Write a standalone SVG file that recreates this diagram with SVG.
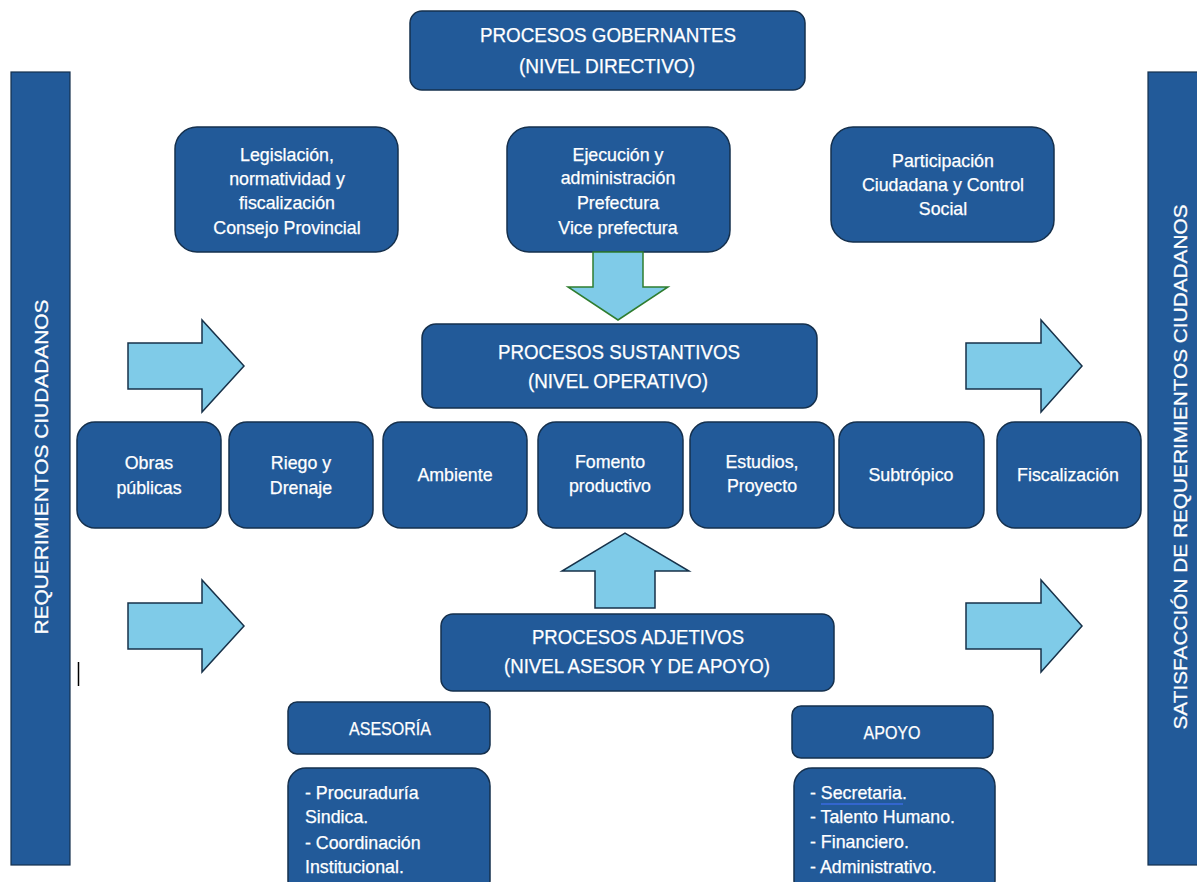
<svg xmlns="http://www.w3.org/2000/svg" width="1197" height="882" viewBox="0 0 1197 882">
<style>
.box{fill:#225a99;stroke:#15304d;stroke-width:1.5}
.bar{fill:#225a99;stroke:#15304d;stroke-width:1.2}
.arr{fill:#7fcbe8;stroke:#17324a;stroke-width:1.5;stroke-linejoin:miter}
.arrg{fill:#7fcbe8;stroke:#2f7d2f;stroke-width:1.5}
text{font-family:"Liberation Sans",Arial,sans-serif;fill:#ffffff;stroke:#ffffff;stroke-width:0.25}
.t16{font-size:17.8px;text-anchor:middle}
.h16{font-size:17.5px;text-anchor:middle}
.t20{font-size:21px;text-anchor:middle}
.l16{font-size:17.8px;text-anchor:start}
.v{font-size:19px;text-anchor:middle}
</style>
<rect width="1197" height="882" fill="#ffffff"/>

<g id="bar-left">
<rect class="bar" x="11" y="72" width="59" height="793"/>
<text class="v" transform="translate(48,467) rotate(-90)" textLength="335" lengthAdjust="spacingAndGlyphs">REQUERIMIENTOS CIUDADANOS</text>
</g>
<g id="bar-right">
<rect class="bar" x="1148" y="72" width="60" height="793"/>
<text class="v" transform="translate(1187,467) rotate(-90)" textLength="525" lengthAdjust="spacingAndGlyphs">SATISFACCIÓN DE REQUERIMIENTOS CIUDADANOS</text>
</g>

<g id="gobernantes">
<rect class="box" x="410" y="11" width="395" height="79" rx="12"/>
<text class="t20" x="608" y="42" textLength="256" lengthAdjust="spacingAndGlyphs">PROCESOS GOBERNANTES</text>
<text class="t20" x="607" y="73" textLength="176" lengthAdjust="spacingAndGlyphs">(NIVEL DIRECTIVO)</text>
</g>

<g id="legislacion">
<rect class="box" x="175" y="127" width="223" height="125" rx="22"/>
<text class="t16" x="287" y="161">Legislación,</text>
<text class="t16" x="287" y="185">normatividad y</text>
<text class="t16" x="287" y="209">fiscalización</text>
<text class="t16" x="287" y="234">Consejo Provincial</text>
</g>

<g id="ejecucion">
<rect class="box" x="507" y="127" width="223" height="125" rx="22"/>
<text class="t16" x="618" y="161">Ejecución y</text>
<text class="t16" x="618" y="184">administración</text>
<text class="t16" x="618" y="209">Prefectura</text>
<text class="t16" x="618" y="234">Vice prefectura</text>
</g>

<g id="participacion">
<rect class="box" x="831" y="127" width="223" height="115" rx="22"/>
<text class="t16" x="943" y="167">Participación</text>
<text class="t16" x="943" y="191">Ciudadana y Control</text>
<text class="t16" x="943" y="215">Social</text>
</g>

<g id="sustantivos">
<rect class="box" x="422" y="324" width="395" height="84" rx="14"/>
<text class="t20" x="619" y="359" textLength="242" lengthAdjust="spacingAndGlyphs">PROCESOS SUSTANTIVOS</text>
<text class="t20" x="618" y="388" textLength="180" lengthAdjust="spacingAndGlyphs">(NIVEL OPERATIVO)</text>
</g>

<g id="obras">
<rect class="box" x="77" y="422" width="144" height="106" rx="18"/>
<text class="t16" x="149" y="469">Obras</text>
<text class="t16" x="149" y="494">públicas</text>
</g>
<g id="riego">
<rect class="box" x="229" y="422" width="144" height="106" rx="18"/>
<text class="t16" x="301" y="469">Riego y</text>
<text class="t16" x="301" y="494">Drenaje</text>
</g>
<g id="ambiente">
<rect class="box" x="383" y="422" width="144" height="106" rx="18"/>
<text class="t16" x="455" y="481">Ambiente</text>
</g>
<g id="fomento">
<rect class="box" x="538" y="422" width="145" height="106" rx="18"/>
<text class="t16" x="610" y="468">Fomento</text>
<text class="t16" x="610" y="492">productivo</text>
</g>
<g id="estudios">
<rect class="box" x="690" y="422" width="144" height="106" rx="18"/>
<text class="t16" x="762" y="468">Estudios,</text>
<text class="t16" x="762" y="492">Proyecto</text>
</g>
<g id="subtropico">
<rect class="box" x="839" y="422" width="145" height="106" rx="18"/>
<text class="t16" x="911" y="481">Subtrópico</text>
</g>
<g id="fiscalizacion">
<rect class="box" x="997" y="422" width="144" height="106" rx="18"/>
<text class="t16" x="1068" y="481">Fiscalización</text>
</g>

<g id="adjetivos">
<rect class="box" x="441" y="614" width="393" height="77" rx="12"/>
<text class="t20" x="638" y="644" textLength="212" lengthAdjust="spacingAndGlyphs">PROCESOS ADJETIVOS</text>
<text class="t20" x="637" y="673" textLength="266" lengthAdjust="spacingAndGlyphs">(NIVEL ASESOR Y DE APOYO)</text>
</g>

<g id="asesoria">
<rect class="box" x="288" y="702" width="202" height="52" rx="9"/>
<text class="h16" x="390" y="735" textLength="82" lengthAdjust="spacingAndGlyphs">ASESORÍA</text>
</g>
<g id="asesoria-lista">
<rect class="box" x="288" y="768" width="202" height="130" rx="18"/>
<text class="l16" x="305" y="799">- Procuraduría</text>
<text class="l16" x="305" y="823">Sindica.</text>
<text class="l16" x="305" y="849">- Coordinación</text>
<text class="l16" x="305" y="873">Institucional.</text>
</g>

<g id="apoyo">
<rect class="box" x="792" y="706" width="201" height="52" rx="9"/>
<text class="h16" x="892" y="739" textLength="57" lengthAdjust="spacingAndGlyphs">APOYO</text>
</g>
<g id="apoyo-lista">
<rect class="box" x="794" y="768" width="201" height="130" rx="18"/>
<text class="l16" x="810" y="799">- Secretaria.</text>
<line x1="821" y1="804" x2="903" y2="804" stroke="#3a6be0" stroke-width="1.5"/>
<text class="l16" x="810" y="823">- Talento Humano.</text>
<text class="l16" x="810" y="848">- Financiero.</text>
<text class="l16" x="810" y="873">- Administrativo.</text>
</g>

<g id="connectors">
<polygon class="arrg" points="593,252 643,252 643,287 668,287 618,320 568,287 593,287"/>
<polygon class="arr" points="595,608 655,608 655,571 689,571 625,533 562,571 595,571"/>
<polygon class="arr" points="128,343 202,343 202,320 244,366 202,412 202,389 128,389"/>
<polygon class="arr" points="966,343 1041,343 1041,320 1082,366 1041,412 1041,389 966,389"/>
<polygon class="arr" points="128,603 202,603 202,580 244,626 202,672 202,649 128,649"/>
<polygon class="arr" points="966,603 1041,603 1041,580 1082,626 1041,672 1041,649 966,649"/>
</g>

<line x1="78.5" y1="662" x2="78.5" y2="686" stroke="#000000" stroke-width="1.5"/>
</svg>
